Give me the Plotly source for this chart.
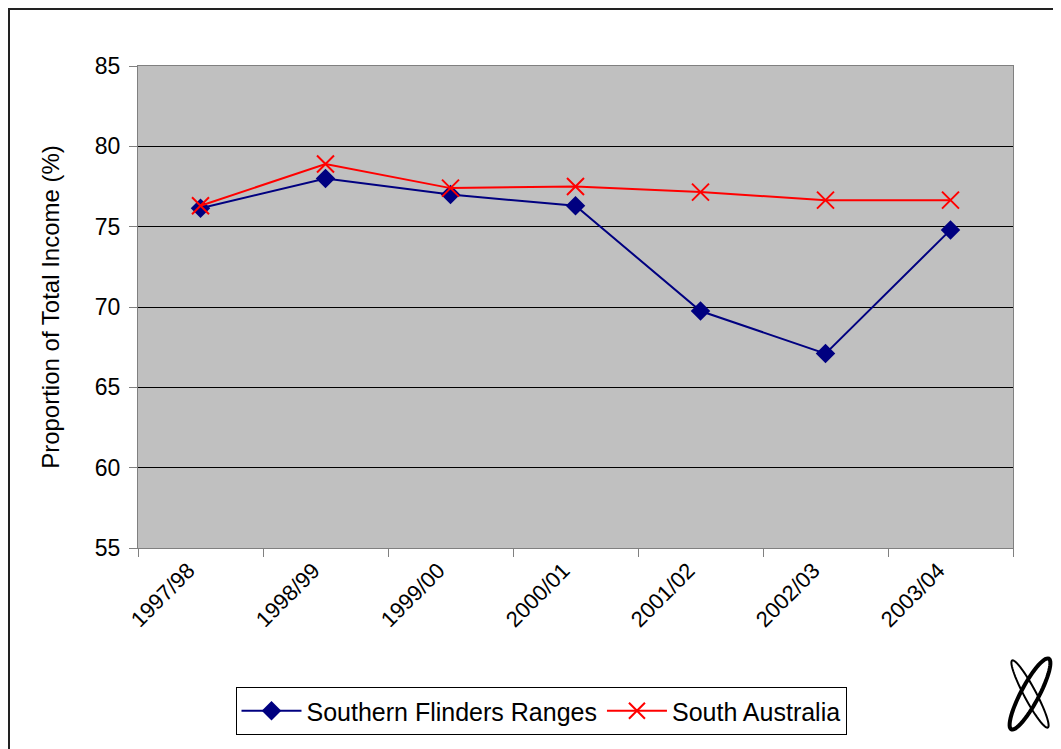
import numpy as np
import plotly.graph_objects as go

years = ["1997/98", "1998/99", "1999/00", "2000/01", "2001/02", "2002/03", "2003/04"]
southern_flinders = [76.15, 78.0, 77.0, 76.3, 69.75, 67.1, 74.8]
south_australia = [76.3, 78.9, 77.4, 77.5, 77.15, 76.65, 76.65]
y_ticks = [55, 60, 65, 70, 75, 80, 85]

# page has an 8px body margin; screen coordinates below refer to the screenshot
OFF = 8
W, H = 1053, 741
L, T, R, B = 130, 58, 48, 201
pw, ph = W - L - R, H - T - B

def px_x(x):
    return (x - OFF - L) / pw

def px_y(y):
    return (H - B + OFF - y) / ph

def ellipse_path(cx, cy, a, b, ang_deg, n=60):
    t = np.linspace(0, 2 * np.pi, n)
    ang = np.deg2rad(ang_deg)
    xs = cx + a * np.cos(t) * np.cos(ang) - b * np.sin(t) * np.sin(ang)
    ys = cy + a * np.cos(t) * np.sin(ang) + b * np.sin(t) * np.cos(ang)
    pts = [f"{px_x(x):.5f},{px_y(y):.5f}" for x, y in zip(xs, ys)]
    return "M" + " L".join(pts) + " Z"

fig = go.Figure()
fig.add_trace(go.Scatter(
    x=years, y=southern_flinders, name="Southern Flinders Ranges",
    mode="lines+markers",
    line=dict(color="#000080", width=2),
    marker=dict(symbol="diamond", size=15, color="#000080"),
))
fig.add_trace(go.Scatter(
    x=years, y=south_australia, name="South Australia",
    mode="lines+markers",
    line=dict(color="#FF0000", width=2),
    marker=dict(symbol="x-thin", size=17, line=dict(color="#FF0000", width=2)),
))

font = "Liberation Sans, Arial, sans-serif"
fig.update_layout(
    width=W, height=H,
    margin=dict(l=L, r=R, t=T, b=B),
    paper_bgcolor="white",
    plot_bgcolor="#C0C0C0",
    font=dict(family=font, size=22, color="black"),
    showlegend=True,
    legend=dict(
        orientation="h", x=px_x(541), xanchor="center", y=px_y(687), yanchor="top",
        bordercolor="black", borderwidth=1, bgcolor="white",
        font=dict(size=25), tracegroupgap=0, itemwidth=60,
    ),
    xaxis=dict(
        type="category", tickson="boundaries", ticks="outside", ticklen=8,
        tickcolor="#808080", tickangle=-45, tickfont=dict(size=22),
        ticklabelshift=-12,
        showline=True, linecolor="#808080", linewidth=1, mirror=True,
        showgrid=False, range=[-0.5, 6.5],
    ),
    yaxis=dict(
        range=[55, 85], tickvals=y_ticks, ticks="outside", ticklen=8,
        tickcolor="#808080", showgrid=True, gridcolor="black", gridwidth=1,
        showline=True, linecolor="#808080", linewidth=1, mirror=True,
        zeroline=False, tickfont=dict(size=23), ticklabelstandoff=4,
        title=dict(text="Proportion of Total Income (%)", font=dict(size=24), standoff=28),
    ),
    shapes=[
        dict(type="rect", xref="paper", yref="paper",
             x0=px_x(9), x1=px_x(1200), y0=px_y(900), y1=px_y(9),
             line=dict(color="#222222", width=2), fillcolor="rgba(0,0,0,0)", layer="below"),
        dict(type="path", xref="paper", yref="paper",
             path=ellipse_path(1030, 694, 40, 9, -62),
             line=dict(color="black", width=4), fillcolor="rgba(0,0,0,0)"),
        dict(type="path", xref="paper", yref="paper",
             path=ellipse_path(1030, 694, 38, 6, -118),
             line=dict(color="black", width=2), fillcolor="rgba(0,0,0,0)"),
    ],
)

fig.write_html("out.html")
